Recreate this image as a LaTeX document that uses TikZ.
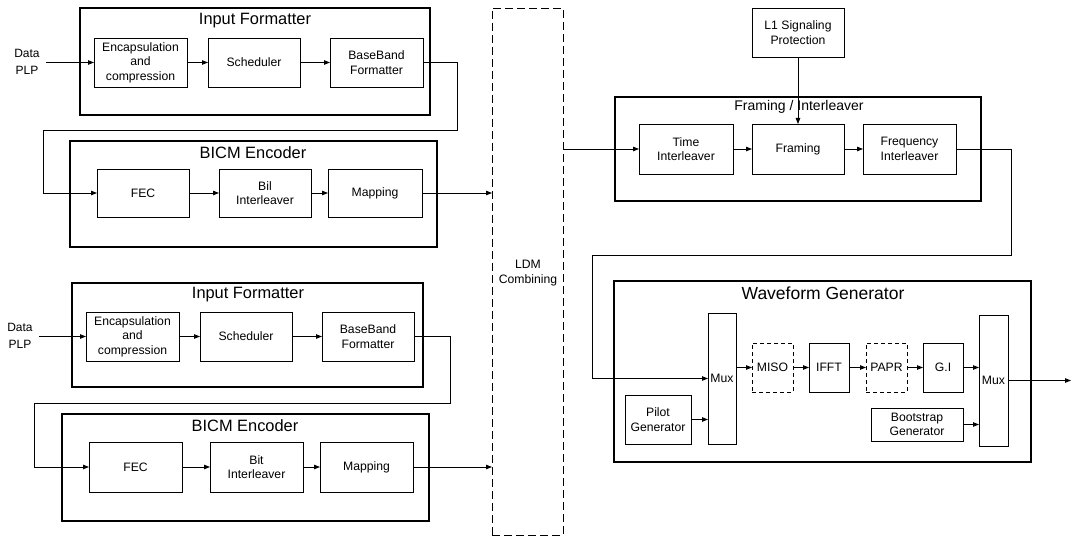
\documentclass[tikz,border=0pt]{standalone}
\usepackage{fontspec}
\setmainfont{Liberation Sans}
\usetikzlibrary{arrows.meta}
\tikzset{
  blk/.style={draw, line width=0.9pt, outer sep=0pt, inner sep=1pt, align=center,
    font=\fontsize{12.2}{14.6}\selectfont},
  grp/.style={draw, line width=2.4pt, outer sep=0pt, inner sep=0pt},
  dbox/.style={blk, dashed, dash pattern=on 4pt off 3pt},
  ttl/.style={inner sep=0pt, font=\fontsize{16.4}{18}\selectfont},
  lbl/.style={inner sep=0pt, align=center, font=\fontsize{12}{17}\selectfont},
  arr/.style={line width=0.9pt, -{Triangle[length=6pt,width=4.5pt]}},
  ln/.style={line width=0.9pt}
}
\begin{document}
\begin{tikzpicture}[x=1pt,y=-1pt]
\useasboundingbox (0,0) rectangle (1073,537);
% ---------- top chain ----------
\node[grp, minimum width=350, minimum height=107] (if1) at (255,61.5) {};
\node[ttl] (if1t) at (255,21) {Input Formatter};
\node[blk, minimum width=93, minimum height=49] (enc1) at (140.5,62.5) {Encapsulation\\and\\compression};
\node[blk, minimum width=92, minimum height=49] (sch1) at (254,62.5) {Scheduler};
\node[blk, minimum width=93, minimum height=49] (bb1) at (376.5,62.5) {BaseBand\\Formatter};
\node[lbl] (dp1) at (27,62) {Data\\PLP};

\node[grp, minimum width=367, minimum height=106] (bi1) at (253.5,194) {};
\node[ttl] (bi1t) at (253,153) {BICM Encoder};
\node[blk, minimum width=92, minimum height=48] (fec1) at (143,193) {FEC};
\node[blk, minimum width=92, minimum height=48] (bil1) at (265,193) {Bil\\Interleaver};
\node[blk, minimum width=94, minimum height=48] (map1) at (375,193) {Mapping};

% ---------- bottom chain ----------
\node[grp, minimum width=351, minimum height=104] (if2) at (247.5,335) {};
\node[ttl] (if2t) at (248,295) {Input Formatter};
\node[blk, minimum width=93, minimum height=49] (enc2) at (132.5,336.5) {Encapsulation\\and\\compression};
\node[blk, minimum width=92, minimum height=49] (sch2) at (246,336.5) {Scheduler};
\node[blk, minimum width=92, minimum height=49] (bb2) at (368,336.5) {BaseBand\\Formatter};
\node[lbl] (dp2) at (20,336) {Data\\PLP};

\node[grp, minimum width=367, minimum height=107] (bi2) at (245.5,467.5) {};
\node[ttl] (bi2t) at (245,426) {BICM Encoder};
\node[blk, minimum width=93, minimum height=50] (fec2) at (135.5,467) {FEC};
\node[blk, minimum width=93, minimum height=50] (bit2) at (256.5,467) {Bit\\Interleaver};
\node[blk, minimum width=93, minimum height=50] (map2) at (366.5,467) {Mapping};

% ---------- LDM ----------
\node[draw, line width=0.9pt, dash pattern=on 8pt off 4pt, outer sep=0pt, minimum width=71, minimum height=527] (ldm) at (527.5,271.5) {};
\node[lbl, font=\fontsize{12.2}{14.6}\selectfont] (ldmt) at (528,273) {LDM\\Combining};

% ---------- framing ----------
\node[blk, minimum width=92, minimum height=49] (l1) at (798,32.5) {L1 Signaling\\Protection};
\node[grp, minimum width=366, minimum height=104] (fri) at (798,149) {};
\node[ttl, font=\fontsize{14}{16}\selectfont] (frit) at (799,107) {Framing / Interleaver};
\node[blk, minimum width=94, minimum height=50] (ti) at (686,149) {Time\\Interleaver};
\node[blk, minimum width=92, minimum height=50] (fr) at (798,149) {Framing};
\node[blk, minimum width=93, minimum height=50] (fi) at (909.5,149) {Frequency\\Interleaver};

% ---------- waveform ----------
\node[grp, minimum width=417, minimum height=181] (wg) at (822.5,371.5) {};
\node[ttl, font=\fontsize{17.5}{19}\selectfont] (wgt) at (823,293) {Waveform Generator};
\node[blk, minimum width=28, minimum height=131] (mux1) at (722,378.5) {Mux};
\node[dbox, minimum width=41, minimum height=49] (miso) at (772.5,367.5) {MISO};
\node[blk, minimum width=40, minimum height=49] (ifft) at (829,367.5) {IFFT};
\node[dbox, minimum width=41, minimum height=49] (papr) at (886.5,367.5) {PAPR};
\node[blk, minimum width=40, minimum height=49] (gi) at (943,367.5) {G.I};
\node[blk, minimum width=29, minimum height=131] (mux2) at (993.5,380.5) {Mux};
\node[blk, minimum width=66, minimum height=49] (pilot) at (658,419.5) {Pilot\\Generator};
\node[blk, minimum width=92, minimum height=33] (boot) at (917,424.5) {Bootstrap\\Generator};

% ---------- bend coordinates ----------
\coordinate (a1) at (457,130);
\coordinate (a2) at (43,130);
\coordinate (b1) at (450,403);
\coordinate (b2) at (34,403);
\coordinate (c1) at (1011,255);
\coordinate (c2) at (592,255);
\coordinate (outp) at (1071,380.5);

% ---------- connectors ----------
\draw[arr] ([xshift=6pt]dp1.east |- enc1.west) -- (enc1.west);
\draw[arr] (enc1) -- (sch1);
\draw[arr] (sch1) -- (bb1);
\draw[arr] (bb1.east) -| (a1) -- (a2) |- (fec1.west);
\draw[arr] (fec1) -- (bil1);
\draw[arr] (bil1) -- (map1);
\draw[arr] (map1.east) -- (map1.east -| ldm.west);

\draw[arr] ([xshift=6pt]dp2.east |- enc2.west) -- (enc2.west);
\draw[arr] (enc2) -- (sch2);
\draw[arr] (sch2) -- (bb2);
\draw[arr] (bb2.east) -| (b1) -- (b2) |- (fec2.west);
\draw[arr] (fec2) -- (bit2);
\draw[arr] (bit2) -- (map2);
\draw[arr] (map2.east) -- (map2.east -| ldm.west);

\draw[arr] (ti.west -| ldm.east) -- (ti.west);
\draw[arr] (ti) -- (fr);
\draw[arr] (fr) -- (fi);
\draw[arr] (l1.south) -- (fr.north);
\draw[arr] (fi.east) -| (c1) -- (c2) |- (mux1.west);

\draw[arr] (miso.west -| mux1.east) -- (miso.west);
\draw[arr] (miso) -- (ifft);
\draw[arr] (ifft) -- (papr);
\draw[arr] (papr) -- (gi);
\draw[arr] (gi.east) -- (gi.east -| mux2.west);
\draw[arr] (pilot.east) -- (pilot.east -| mux1.west);
\draw[arr] (boot.east) -- (boot.east -| mux2.west);
\draw[arr] (mux2.east) -- (outp);
\end{tikzpicture}
\end{document}
